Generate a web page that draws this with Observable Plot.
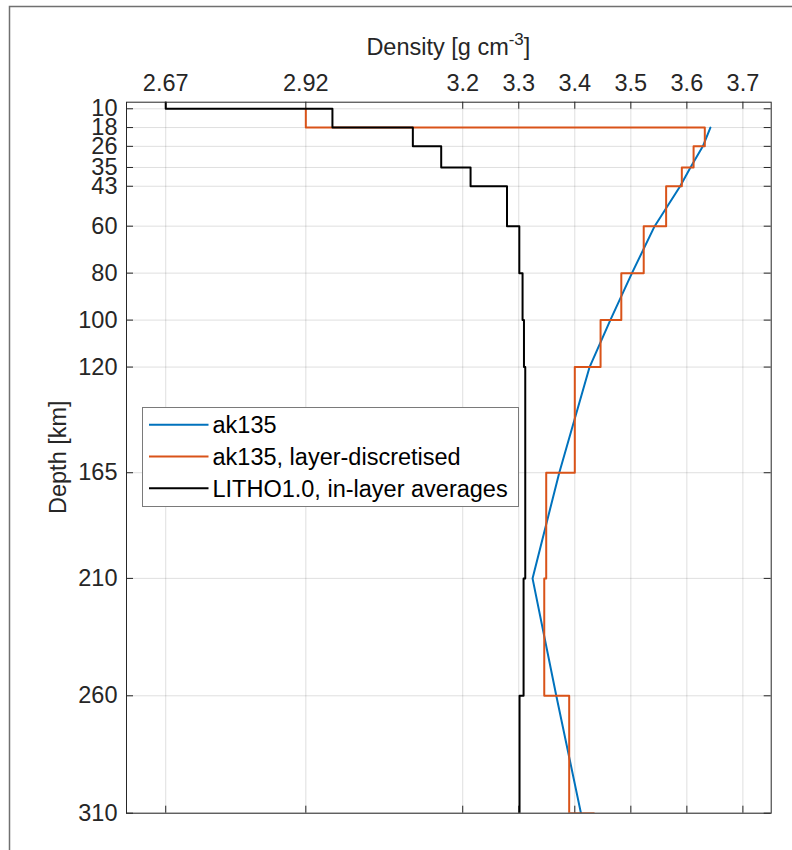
<!DOCTYPE html>
<html>
<head>
<meta charset="utf-8">
<script src="https://cdn.jsdelivr.net/npm/d3@7"></script>
<script src="https://cdn.jsdelivr.net/npm/@observablehq/plot@0.6"></script>
<style>
  html, body { margin: 0; padding: 0; background: #fff; }
  #chart { width: 792px; height: 850px; }
</style>
</head>
<body>
<div id="chart"></div>
<script>
// ---- data ----
const densityTicks = [2.67, 2.92, 3.2, 3.3, 3.4, 3.5, 3.6, 3.7];
const depthTicks = [10, 18, 26, 35, 43, 60, 80, 100, 120, 165, 210, 260, 310];

// ak135 (continuous model)
const ak135Depth   = [18, 26, 35, 43, 60, 80, 100, 120, 165, 210, 260, 310];
const ak135Density = [3.642, 3.6285, 3.6064, 3.588, 3.5425, 3.502, 3.4634, 3.4264, 3.3723, 3.3246, 3.367, 3.411];

// ak135, layer-discretised (layer tops / bottoms and values)
const discTop     = [10, 18, 26, 35, 43, 60, 80, 100, 120, 165, 210, 260];
const discBottom  = [18, 26, 35, 43, 60, 80, 100, 120, 165, 210, 260, 310];
const discDensity = [2.92, 3.632, 3.612, 3.591, 3.563, 3.523, 3.483, 3.446, 3.400, 3.349, 3.3455, 3.390];
const discLastDensity = 3.434; // value at 310 km

// LITHO1.0, in-layer averages
const lithoTop     = [0, 10, 18, 26, 35, 43, 60, 80, 100, 120, 165, 210, 260];
const lithoBottom  = [10, 18, 26, 35, 43, 60, 80, 100, 120, 165, 210, 260, 310];
const lithoDensity = [2.67, 2.9675, 3.111, 3.1616, 3.214, 3.279, 3.301, 3.3068, 3.3093, 3.3116, 3.3116, 3.3086, 3.3014];

const xDomain = [2.6, 3.7505];
const yDomain = [7.2, 310];

const seriesNames = ["ak135", "ak135, layer-discretised", "LITHO1.0, in-layer averages"];
const seriesColors = ["#0072BD", "#D95319", "#000000"];

// ---- build tables ----
const blueData = ak135Depth.map((d, i) => ({depth: d, density: ak135Density[i]}));
function stairs(tops, bottoms, vals) {
  const out = [];
  tops.forEach((t, i) => {
    out.push({depth: t, density: vals[i]});
    out.push({depth: bottoms[i], density: vals[i]});
  });
  return out;
}
const orangeData = stairs(discTop, discBottom, discDensity);
orangeData.push({depth: discBottom[discBottom.length - 1], density: discLastDensity});
const blackData = stairs(lithoTop, lithoBottom, lithoDensity);

// ---- layout ----
const W = 792, H = 850;
const mL = 126, mR = 21.3, mT = 101.7, mB = 37.3;
const frameW = W - mL - mR, frameH = H - mT - mB;
const axisColor = "#262626";
const font = "'Liberation Sans', Arial, Helvetica, sans-serif";
const fs = 23.5;

const plot = Plot.plot({
  width: W,
  height: H,
  marginLeft: mL, marginRight: mR, marginTop: mT, marginBottom: mB,
  style: {fontFamily: font, fontSize: fs + "px", color: axisColor, background: "#fff"},
  x: {domain: xDomain},
  y: {domain: yDomain, reverse: true},
  marks: [
    Plot.gridX(densityTicks, {stroke: axisColor, strokeOpacity: 0.15, strokeWidth: 1}),
    Plot.gridY(depthTicks, {stroke: axisColor, strokeOpacity: 0.15, strokeWidth: 1}),
    Plot.axisX({anchor: "top", ticks: densityTicks, tickSize: 0, tickPadding: 11, fontSize: fs, tickFormat: d => String(d), label: null}),
    Plot.axisY({anchor: "left", ticks: depthTicks, tickSize: 0, tickPadding: 9, fontSize: fs, tickFormat: d => String(d), label: null}),
    // inward ticks on all four sides
    Plot.tickX(densityTicks, {x: d => d, insetBottom: frameH - 7, stroke: axisColor, strokeWidth: 1}),
    Plot.tickX(densityTicks, {x: d => d, insetTop: frameH - 7, stroke: axisColor, strokeWidth: 1}),
    Plot.tickY(depthTicks, {y: d => d, insetRight: frameW - 7, stroke: axisColor, strokeWidth: 1}),
    Plot.tickY(depthTicks, {y: d => d, insetLeft: frameW - 7, stroke: axisColor, strokeWidth: 1}),
    Plot.line(blueData, {x: "density", y: "depth", stroke: seriesColors[0], strokeWidth: 2, clip: true}),
    Plot.line(orangeData, {x: "density", y: "depth", stroke: seriesColors[1], strokeWidth: 2, clip: true}),
    Plot.line(blackData, {x: "density", y: "depth", stroke: seriesColors[2], strokeWidth: 2, clip: true}),
    Plot.frame({stroke: axisColor, strokeWidth: 1})
  ]
});
document.getElementById("chart").appendChild(plot);

// ---- extra text / legend (styling layer) ----
const svg = d3.select(plot);

// figure border (top + left visible)
svg.append("rect")
  .attr("x", 9.5).attr("y", 6.5).attr("width", W + 20).attr("height", H + 20)
  .attr("fill", "none").attr("stroke", "#707070").attr("stroke-width", 1.5);

// x label with superscript
const xl = svg.append("text")
  .attr("x", mL + frameW / 2).attr("y", 55)
  .attr("text-anchor", "middle")
  .attr("fill", axisColor)
  .style("font-family", font).style("font-size", fs + "px");
xl.append("tspan").text("Density [g cm");
xl.append("tspan").attr("dy", -10).style("font-size", (fs * 0.72) + "px").text("-3");
xl.append("tspan").attr("dy", 10).text("]");

// y label
svg.append("text")
  .attr("transform", `translate(66, ${mT + frameH / 2}) rotate(-90)`)
  .attr("text-anchor", "middle")
  .attr("fill", axisColor)
  .style("font-family", font).style("font-size", fs + "px")
  .text("Depth [km]");

// legend
const lg = svg.append("g");
lg.append("rect")
  .attr("x", 142.5).attr("y", 407.5).attr("width", 376).attr("height", 99)
  .attr("fill", "#fff").attr("stroke", "#7a7a7a").attr("stroke-width", 1);
const rowY = [424.7, 456.5, 488.3];
seriesNames.forEach((name, i) => {
  lg.append("line")
    .attr("x1", 149).attr("x2", 208.5).attr("y1", rowY[i]).attr("y2", rowY[i])
    .attr("stroke", seriesColors[i]).attr("stroke-width", 2);
  lg.append("text")
    .attr("x", 212.5).attr("y", rowY[i] + 8.5)
    .attr("text-anchor", "start")
    .attr("fill", "#000")
    .style("font-family", font).style("font-size", fs + "px")
    .text(name);
});
</script>
</body>
</html>
